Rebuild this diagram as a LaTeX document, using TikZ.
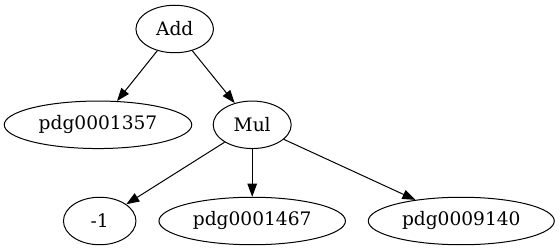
\documentclass[tikz,border=0pt]{standalone}
\usepackage{fontspec}
\setmainfont{DejaVu Serif}
\usetikzlibrary{shapes.geometric,arrows.meta}
\begin{document}
\begin{tikzpicture}[x=1pt,y=-1pt,
  gvnode/.style={ellipse,draw,line width=1pt,inner sep=0pt,font=\fontsize{18.6}{20}\selectfont},
  gvedge/.style={line width=1pt,-{Triangle[length=13pt,width=9.5pt]}}]
\useasboundingbox (0,0) rectangle (560,251);
\node[gvnode,minimum width=77.5pt,minimum height=47.5pt] (add) at (174.7,29) {Add};
\node[gvnode,minimum width=187.5pt,minimum height=47.5pt] (p1357) at (98,124.8) {pdg0001357};
\node[gvnode,minimum width=78pt,minimum height=47.5pt] (mul) at (252.2,124.8) {Mul};
\node[gvnode,minimum width=72.5pt,minimum height=47.5pt] (m1) at (99.7,221) {-1};
\node[gvnode,minimum width=186.5pt,minimum height=47.5pt] (p1467) at (252.2,221) {pdg0001467};
\node[gvnode,minimum width=186pt,minimum height=47.5pt] (p9140) at (461.3,221) {pdg0009140};
\draw[gvedge] (add) -- (p1357);
\draw[gvedge] (add) -- (mul);
\draw[gvedge] (mul) -- (m1);
\draw[gvedge] (mul) -- (p1467);
\draw[gvedge] (mul) -- (p9140);
\end{tikzpicture}
\end{document}
